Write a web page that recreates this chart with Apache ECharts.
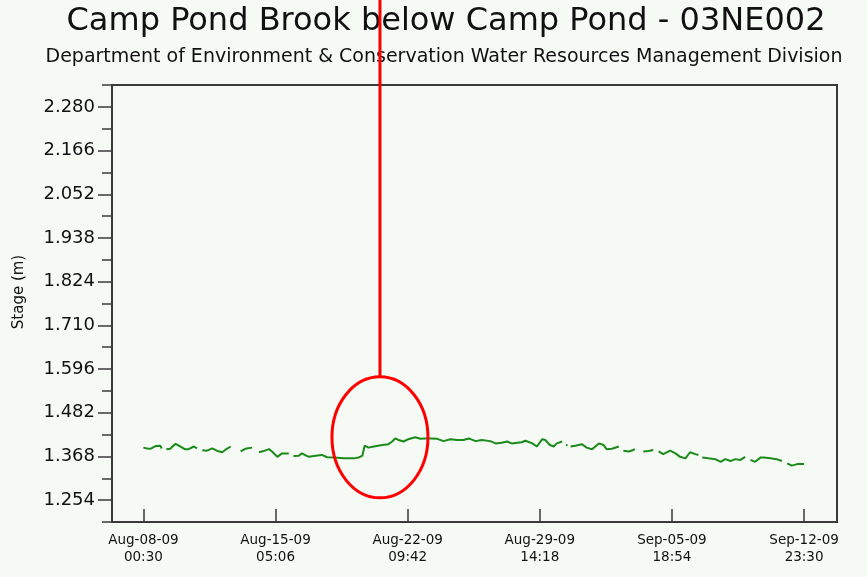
<!DOCTYPE html>
<html>
<head>
<meta charset="utf-8">
<script src="https://cdn.jsdelivr.net/npm/echarts@6/dist/echarts.min.js"></script>
<style>
html,body{margin:0;padding:0;background:#f5faf5;}
#chart{width:867px;height:577px;}
</style>
</head>
<body>
<div id="chart"></div>
<script>
// Hours since Aug-08-09 00:30 and stage (m); null = gap in record
const hours = [0,5,9,16,22,24, 27,
  30,35,42,48,54,59,66,70, 73,
  77,83,90,96,103,109,114, 120,
  127,133,142, 146,
  151,157,164,168,175,181,190, 193,
  196,203,207,209,216,225,233,240,249,262,275,281,286,289,294,301,312,320,325,329,333,340,346,355,362,368,375,384,392,401,410,418,425,427,434,442,453,460,468,475,481,494,499,508,514,521,525,531,536,540,547, 550,
  552,554, 556,
  558,564,573,579,586,595,601,605,612,621, 624,
  627,634,640,642, 648,
  653,660,666, 670,
  673,679,688,695,701,708,714,721,725, 728,
  730,738,747,754,760,767,773,780,786, 790,
  793,799,806,810,819,827,834, 838,
  841,847,854,860,863];
const stage = [1.391,1.389,1.388,1.395,1.396,1.389, null,
  1.387,1.388,1.401,1.394,1.387,1.387,1.394,1.389, null,
  1.384,1.383,1.389,1.383,1.379,1.388,1.394, null,
  1.381,1.388,1.391, null,
  1.379,1.382,1.387,1.381,1.367,1.376,1.376, null,
  1.369,1.370,1.376,1.372,1.367,1.370,1.372,1.366,1.365,1.363,1.363,1.365,1.370,1.396,1.391,1.394,1.398,1.400,1.407,1.415,1.411,1.407,1.413,1.418,1.414,1.415,1.415,1.414,1.408,1.413,1.411,1.411,1.415,1.417,1.408,1.411,1.408,1.402,1.404,1.407,1.402,1.405,1.409,1.402,1.394,1.413,1.411,1.398,1.394,1.402,1.407, null,
  1.398,1.397, null,
  1.394,1.396,1.400,1.391,1.387,1.402,1.398,1.387,1.388,1.394, null,
  1.383,1.381,1.385,1.387, null,
  1.381,1.382,1.385, null,
  1.381,1.374,1.383,1.376,1.367,1.363,1.379,1.374,1.372, null,
  1.365,1.363,1.361,1.354,1.361,1.356,1.361,1.359,1.367, null,
  1.359,1.354,1.365,1.365,1.363,1.361,1.356, null,
  1.350,1.344,1.348,1.348,1.348];

const xTickHours = [0, 172.6, 345.2, 517.8, 690.4, 863];
const xTickDates = ['Aug-08-09','Aug-15-09','Aug-22-09','Aug-29-09','Sep-05-09','Sep-12-09'];
const xTickTimes = ['00:30','05:06','09:42','14:18','18:54','23:30'];
const yTicks = [1.254, 1.368, 1.482, 1.596, 1.710, 1.824, 1.938, 2.052, 2.166, 2.280];

const titleText = 'Camp Pond Brook below Camp Pond - 03NE002';
const subText = 'Department of Environment & Conservation Water Resources Management Division';

const FONT = 'DejaVu Sans';
const AX = '#3a3a3a';

const seriesData = hours.map((h, i) => [h, stage[i] === null ? '-' : stage[i]]);

const chart = echarts.init(document.getElementById('chart'), null, {renderer: 'canvas'});
chart.setOption({
  backgroundColor: '#f5faf5',
  animation: false,
  title: [
    {text: titleText, left: 446, top: 6, textAlign: 'center', padding: 0,
     textStyle: {fontFamily: FONT, fontSize: 32, fontWeight: 'normal', color: '#111'}},
    {text: subText, left: 444, top: 48, textAlign: 'center', padding: 0,
     textStyle: {fontFamily: FONT, fontSize: 19, fontWeight: 'normal', color: '#111'}}
  ],
  grid: {left: 112, right: 30, top: 85, bottom: 55, show: true,
         borderColor: AX, borderWidth: 2, backgroundColor: 'transparent'},
  xAxis: {
    type: 'value', min: -41, max: 906,
    axisLine: {show: true, onZero: false, lineStyle: {color: AX, width: 2}},
    axisTick: {show: true, inside: true, length: 13, customValues: xTickHours,
               lineStyle: {color: AX, width: 1.5}},
    axisLabel: {customValues: xTickHours, margin: 10, fontFamily: FONT, fontSize: 13.5,
                lineHeight: 17, color: '#111',
                formatter: v => {
                  const i = xTickHours.findIndex(t => Math.abs(t - v) < 0.01);
                  return i < 0 ? '' : xTickDates[i] + '\n' + xTickTimes[i];
                }},
    splitLine: {show: false}
  },
  yAxis: [
    {
      type: 'value', min: 1.197, max: 2.337, position: 'left',
      name: 'Stage (m)', nameLocation: 'middle', nameGap: 85,
      nameTextStyle: {fontFamily: FONT, fontSize: 15, color: '#111', padding: [0, 0, 0, 23]},
      axisLine: {show: true, onZero: false, lineStyle: {color: AX, width: 2}},
      axisTick: {show: true, length: 14, customValues: yTicks, lineStyle: {color: AX, width: 1.5}},
      axisLabel: {customValues: yTicks, margin: 17, fontFamily: FONT, fontSize: 18, color: '#111',
                  formatter: v => v.toFixed(3)},
      splitLine: {show: false}
    },
    {
      type: 'value', min: 1.197, max: 2.337, interval: 0.057, position: 'left',
      axisLine: {show: false, onZero: false},
      axisTick: {show: true, length: 10, lineStyle: {color: AX, width: 1.5}},
      axisLabel: {show: false},
      splitLine: {show: false}
    }
  ],
  series: [{
    type: 'line', data: seriesData, yAxisIndex: 0, showSymbol: false,
    connectNulls: false,
    lineStyle: {color: '#1a8a1a', width: 2},
    itemStyle: {color: '#1a8a1a'}
  }]
});

// Red annotation (ellipse around the step change with a leader line to the top)
const c = chart.convertToPixel({xAxisIndex: 0, yAxisIndex: 0}, [309, 1.418]);
const rx = 48, ry = 60.5;
chart.setOption({
  graphic: [
    {type: 'ellipse', z: 100, shape: {cx: c[0], cy: c[1], rx: rx, ry: ry},
     style: {fill: 'none', stroke: '#ff0000', lineWidth: 3}},
    {type: 'line', z: 100, shape: {x1: c[0], y1: 0, x2: c[0], y2: c[1] - ry},
     style: {stroke: '#ff0000', lineWidth: 3}}
  ]
});
</script>
</body>
</html>
